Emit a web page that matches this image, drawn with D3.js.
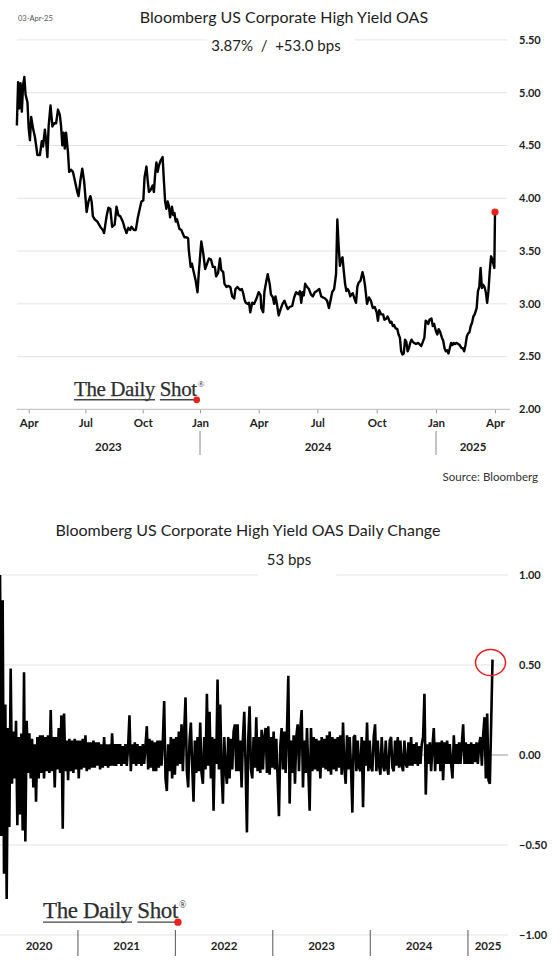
<!DOCTYPE html>
<html><head><meta charset="utf-8">
<script src="https://cdn.jsdelivr.net/npm/d3@7"></script>
<style>
html,body{margin:0;padding:0;background:#fff;}
svg{display:block;font-family:Lato,"Open Sans",sans-serif;}
.pre{white-space:pre;}
</style></head><body>
<svg id="chart" width="560" height="965"></svg>
<script>
// ---------- DATA: top chart (Bloomberg US Corporate High Yield OAS, %) ----------
const oasDates = [
"2023-03-13","2023-03-15","2023-03-17","2023-03-19","2023-03-21","2023-03-23","2023-03-25","2023-03-27","2023-03-30","2023-04-01",
"2023-04-03","2023-04-05","2023-04-08","2023-04-11","2023-04-15","2023-04-19","2023-04-22","2023-04-24","2023-04-27","2023-04-29",
"2023-05-01","2023-05-03","2023-05-06","2023-05-09","2023-05-12","2023-05-15","2023-05-18","2023-05-21","2023-05-23","2023-05-25",
"2023-05-27","2023-05-29","2023-05-31","2023-06-03","2023-06-05","2023-06-08","2023-06-11","2023-06-14","2023-06-18","2023-06-20",
"2023-06-23","2023-06-26","2023-06-29","2023-07-03","2023-07-06","2023-07-09","2023-07-11","2023-07-13","2023-07-16","2023-07-20",
"2023-07-23","2023-07-26","2023-07-29","2023-07-31","2023-08-04","2023-08-07","2023-08-10","2023-08-13","2023-08-17","2023-08-20",
"2023-08-23","2023-08-26","2023-08-30","2023-09-02","2023-09-05","2023-09-08","2023-09-11","2023-09-13","2023-09-17","2023-09-20",
"2023-09-23","2023-09-27","2023-09-29","2023-10-02","2023-10-04","2023-10-07","2023-10-09","2023-10-11","2023-10-14","2023-10-17",
"2023-10-19","2023-10-21","2023-10-23","2023-10-25","2023-10-27","2023-10-30","2023-11-02","2023-11-04","2023-11-06","2023-11-08",
"2023-11-10","2023-11-12","2023-11-14","2023-11-17","2023-11-19","2023-11-21","2023-11-23","2023-11-25","2023-11-29","2023-12-02",
"2023-12-04","2023-12-07","2023-12-10","2023-12-13","2023-12-14","2023-12-17","2023-12-19","2023-12-22","2023-12-25","2023-12-28",
"2023-12-30","2024-01-03","2024-01-06","2024-01-09","2024-01-12","2024-01-15","2024-01-18","2024-01-21","2024-01-24","2024-01-26",
"2024-01-29","2024-02-01","2024-02-03","2024-02-06","2024-02-08","2024-02-11","2024-02-14","2024-02-17","2024-02-20","2024-02-23",
"2024-02-25","2024-02-28","2024-03-03","2024-03-06","2024-03-08","2024-03-10","2024-03-12","2024-03-15","2024-03-17","2024-03-19",
"2024-03-22","2024-03-25","2024-03-28","2024-04-01","2024-04-04","2024-04-05","2024-04-08","2024-04-10","2024-04-13","2024-04-15",
"2024-04-18","2024-04-20","2024-04-23","2024-04-25","2024-04-27","2024-04-29","2024-05-02","2024-05-05","2024-05-08","2024-05-11",
"2024-05-14","2024-05-16","2024-05-19","2024-05-23","2024-05-26","2024-05-29","2024-06-02","2024-06-04","2024-06-06","2024-06-08",
"2024-06-10","2024-06-12","2024-06-15","2024-06-18","2024-06-21","2024-06-24","2024-06-27","2024-06-30","2024-07-04","2024-07-07",
"2024-07-10","2024-07-13","2024-07-16","2024-07-19","2024-07-21","2024-07-24","2024-07-27","2024-07-30","2024-08-01","2024-08-03",
"2024-08-05","2024-08-07","2024-08-09","2024-08-11","2024-08-13","2024-08-15","2024-08-17","2024-08-19","2024-08-21","2024-08-23",
"2024-08-25","2024-08-27","2024-08-30","2024-09-01","2024-09-03","2024-09-06","2024-09-09","2024-09-11","2024-09-13","2024-09-16",
"2024-09-19","2024-09-22","2024-09-25","2024-09-28","2024-10-01","2024-10-03","2024-10-05","2024-10-08","2024-10-11","2024-10-13",
"2024-10-16","2024-10-18","2024-10-20","2024-10-22","2024-10-24","2024-10-26","2024-10-28","2024-10-30","2024-11-02","2024-11-04",
"2024-11-06","2024-11-08","2024-11-10","2024-11-12","2024-11-14","2024-11-16","2024-11-18","2024-11-20","2024-11-22","2024-11-24",
"2024-11-26","2024-11-28","2024-12-01","2024-12-04","2024-12-06","2024-12-09","2024-12-11","2024-12-14","2024-12-16","2024-12-18",
"2024-12-20","2024-12-22","2024-12-25","2024-12-27","2024-12-29","2025-01-01","2025-01-03","2025-01-05","2025-01-07","2025-01-10",
"2025-01-12","2025-01-14","2025-01-16","2025-01-18","2025-01-20","2025-01-22","2025-01-24","2025-01-26","2025-01-28","2025-01-30",
"2025-02-01","2025-02-04","2025-02-06","2025-02-09","2025-02-11","2025-02-13","2025-02-15","2025-02-17","2025-02-19","2025-02-21",
"2025-02-23","2025-02-25","2025-02-27","2025-03-01","2025-03-04","2025-03-06","2025-03-08","2025-03-10","2025-03-12","2025-03-14",
"2025-03-16","2025-03-18","2025-03-20","2025-03-22","2025-03-24","2025-03-26","2025-03-28","2025-03-31","2025-04-01"
];
const oasValues = [
4.69,5.10,4.85,5.09,4.82,5.07,5.15,4.98,4.91,4.66,
4.55,4.77,4.66,4.58,4.41,4.41,4.54,4.49,4.65,4.54,
4.39,4.68,4.88,4.68,4.71,4.71,4.84,4.79,4.68,4.50,
4.62,4.47,4.62,4.44,4.25,4.27,4.25,4.17,4.06,4.02,
4.17,4.28,4.16,3.87,3.97,4.02,3.97,3.83,3.80,3.78,
3.75,3.72,3.70,3.67,3.83,3.91,3.90,3.73,3.75,3.92,
3.84,3.83,3.78,3.72,3.67,3.72,3.70,3.73,3.70,3.70,
3.81,3.92,3.97,3.98,4.20,4.30,4.17,4.06,4.08,4.12,
4.06,4.23,4.34,4.25,4.31,4.36,4.39,4.17,3.97,3.90,
3.97,3.93,3.82,3.92,3.84,3.86,3.78,3.80,3.71,3.70,
3.67,3.63,3.63,3.62,3.51,3.35,3.38,3.30,3.22,3.11,
3.29,3.59,3.48,3.33,3.38,3.43,3.42,3.35,3.35,3.26,
3.29,3.43,3.32,3.30,3.19,3.16,3.17,3.16,3.07,3.05,
3.14,3.16,3.13,3.14,3.10,3.04,3.01,3.00,3.01,2.92,
3.01,3.00,3.04,3.11,3.08,2.96,2.92,3.12,3.22,3.28,
3.19,3.09,3.06,3.00,3.07,3.01,2.89,2.95,3.00,3.03,
2.98,2.95,2.97,2.98,3.06,3.11,3.09,3.12,3.01,3.11,
3.08,3.19,3.16,3.14,3.09,3.07,3.11,3.12,3.14,3.07,
3.06,3.05,3.03,2.96,3.02,3.11,3.14,3.28,3.80,3.55,
3.36,3.42,3.44,3.31,3.19,3.12,3.14,3.12,3.07,3.09,
3.10,3.06,3.01,3.16,3.20,3.22,3.30,3.25,3.17,3.00,
3.06,3.03,2.96,2.97,2.92,2.84,2.94,2.90,2.90,2.85,
2.86,2.88,2.85,2.82,2.83,2.79,2.80,2.77,2.76,2.71,
2.68,2.55,2.52,2.53,2.66,2.64,2.55,2.58,2.63,2.66,
2.64,2.63,2.62,2.63,2.62,2.60,2.63,2.68,2.84,2.83,
2.81,2.85,2.86,2.79,2.81,2.74,2.71,2.76,2.74,2.68,
2.65,2.58,2.55,2.56,2.53,2.58,2.63,2.61,2.63,2.62,
2.63,2.62,2.61,2.58,2.58,2.55,2.61,2.69,2.72,2.73,
2.79,2.82,2.88,2.90,2.96,3.12,3.16,3.34,3.15,3.18,
3.16,3.11,3.01,3.12,3.31,3.45,3.42,3.34,3.87
];
const oasYTicks = [5.5,5.0,4.5,4.0,3.5,3.0,2.5,2.0];
const oasMonthTicks = ["2023-04-01","2023-07-01","2023-10-01","2024-01-01","2024-04-01","2024-07-01","2024-10-01","2025-01-01","2025-04-01"];
const oasYearBreaks = ["2024-01-01","2025-01-01"];
const oasYears = ["2023","2024","2025"];
const oasAxisSpan = ["2023-03-13","2025-04-24"];
const topTitle = "Bloomberg US Corporate High Yield OAS";
const topSubtitle = "3.87%  /  +53.0 bps";
const dateStamp = "03-Apr-25";
const sourceText = "Source: Bloomberg";

// ---------- DATA: bottom chart (daily change, %-points), sampled every 5 days ----------
const chgStart = "2020-03-15";
const chgStepDays = 5;
const chgValues = [
1.05,-0.45,0.86,-0.66,0.28,-0.80,0.15,-0.40,0.48,-0.16,
0.13,-0.13,0.19,-0.39,0.10,-0.33,0.12,-0.42,0.46,-0.48,
0.19,-0.10,0.12,-0.13,0.09,-0.18,0.06,-0.26,0.10,-0.13,
0.11,-0.10,0.11,-0.13,0.10,-0.09,0.11,-0.10,0.25,-0.09,
0.10,-0.18,0.10,-0.08,0.15,-0.10,0.22,-0.41,0.23,-0.09,
0.08,-0.14,0.09,-0.09,0.08,-0.10,0.09,-0.08,0.08,-0.13,
0.08,-0.08,0.09,-0.07,0.11,-0.09,0.07,-0.08,0.07,-0.07,
0.08,-0.07,0.07,-0.06,0.07,-0.08,0.06,-0.07,0.10,-0.06,
0.06,-0.07,0.06,-0.06,0.12,-0.06,0.06,-0.06,0.06,-0.05,
0.06,-0.06,0.05,-0.05,0.06,-0.06,0.05,0.22,-0.09,0.06,
-0.05,0.07,-0.06,0.06,-0.05,0.05,-0.06,0.06,-0.05,0.05,
0.16,-0.08,0.09,-0.07,0.08,-0.09,0.07,-0.09,0.08,-0.07,
0.08,-0.06,0.08,0.30,-0.13,-0.20,0.06,-0.09,0.10,-0.13,
0.09,-0.11,0.10,-0.06,0.13,-0.05,0.17,-0.09,0.13,0.32,
-0.09,-0.18,0.08,0.18,-0.06,-0.26,0.08,-0.10,0.10,-0.09,
0.18,-0.10,-0.16,0.10,-0.08,0.34,-0.06,0.24,-0.13,0.10,
-0.31,0.09,-0.05,0.42,-0.08,0.28,-0.09,-0.27,0.10,-0.08,
-0.16,0.10,-0.13,0.09,-0.08,0.13,0.17,-0.09,0.17,-0.09,
0.08,-0.18,0.09,0.24,-0.06,-0.43,0.09,0.27,-0.08,-0.13,
0.10,-0.07,0.21,-0.09,0.10,-0.10,0.14,-0.08,0.10,0.15,
-0.10,0.16,-0.11,0.10,-0.07,0.13,-0.08,0.09,-0.13,-0.34,
0.05,0.15,-0.08,0.13,-0.10,0.13,0.44,-0.27,0.08,-0.10,
0.11,-0.16,0.10,0.17,-0.09,0.15,0.25,-0.18,0.08,-0.10,
0.15,-0.08,-0.31,0.15,-0.09,0.10,-0.08,0.09,-0.09,0.08,
-0.13,0.10,-0.07,0.09,-0.08,0.11,-0.09,0.13,-0.11,0.10,
-0.08,0.09,-0.09,0.10,-0.07,0.11,-0.11,0.18,-0.07,-0.16,
0.11,-0.08,0.10,-0.07,-0.32,0.10,0.11,-0.09,0.08,-0.07,
-0.09,0.10,-0.29,0.08,-0.06,0.18,-0.09,0.08,-0.07,-0.09,
0.10,0.17,-0.09,0.08,-0.06,-0.11,0.10,-0.06,-0.09,0.08,
-0.07,-0.11,0.08,0.10,-0.07,-0.09,0.08,-0.06,0.10,-0.07,
0.08,-0.06,-0.09,0.08,-0.05,-0.07,0.07,-0.06,0.10,-0.06,
0.06,-0.05,0.07,-0.06,0.05,-0.05,0.06,0.10,0.34,-0.22,
0.06,-0.05,0.07,-0.09,0.05,0.15,-0.09,0.07,-0.05,0.07,
-0.09,0.08,-0.14,0.07,-0.05,0.08,-0.05,0.06,-0.05,-0.13,
0.11,-0.05,0.06,-0.05,0.07,-0.05,0.06,0.17,-0.05,0.07,
-0.05,0.06,-0.05,0.07,-0.05,0.06,-0.04,0.07,-0.05,0.06,
0.10,-0.06,0.11,0.21,-0.13,0.23,-0.14,-0.16,0.18,0.53
];
const chgYTicks = [1.0,0.5,0.0,-0.5,-1.0];
const chgYearBreaks = ["2021-01-01","2022-01-01","2023-01-01","2024-01-01","2025-01-01"];
const chgYears = ["2020","2021","2022","2023","2024","2025"];
const chgAxisSpan = ["2020-03-15","2025-05-31"];
const botTitle = "Bloomberg US Corporate High Yield OAS Daily Change";
const botSubtitle = "53 bps";

// ---------- DRAWING ----------
const parse = d3.utcParse("%Y-%m-%d");
const svg = d3.select("#chart");
const GRID = "#e3e3e3", AXIS = "#c8c8c8", TXT = "#1e1e1e";

function logo(g, x0, base, size){
  const t = g.append("text").attr("x", x0).attr("y", base)
    .attr("font-family","'Liberation Serif','DejaVu Serif',serif")
    .attr("font-size", size).attr("fill","#2e2e2e").attr("letter-spacing","-0.4")
    .attr("stroke","#2e2e2e").attr("stroke-width",0.25)
    .text("The Daily Shot");
  const node = t.node();
  const wAll = node.getComputedTextLength();
  const wTD = node.getSubStringLength(0, 9);
  const sStart = node.getSubStringLength(0, 10);
  const uy = base + size*0.18;
  g.append("line").attr("x1", x0).attr("x2", x0 + wTD).attr("y1", uy).attr("y2", uy)
    .attr("stroke","#444").attr("stroke-width",1.4);
  g.append("line").attr("x1", x0 + sStart).attr("x2", x0 + wAll).attr("y1", uy).attr("y2", uy)
    .attr("stroke","#444").attr("stroke-width",1.4);
  g.append("circle").attr("cx", x0 + wAll).attr("cy", uy).attr("r", size*0.16).attr("fill","#e8231f");
  g.append("text").attr("x", x0 + wAll + 1).attr("y", base - size*0.45)
    .attr("font-family","'Liberation Serif',serif").attr("font-size", size*0.42).attr("fill","#2e2e2e").text("®");
}

// ===== TOP CHART =====
const x1 = d3.scaleUtc()
  .domain(["2023-04-01","2024-01-01","2025-01-01","2025-04-01"].map(parse))
  .range([28.7, 200, 436, 495]);
const y1 = d3.scaleLinear().domain([2, 5.5]).range([409.4, 39.9]);
const gTop = svg.append("g");
const tx0 = x1(parse(oasAxisSpan[0])), tx1 = x1(parse(oasAxisSpan[1]));

gTop.selectAll("line.grid").data(oasYTicks.filter(v => v > 2)).join("line")
  .attr("x1", tx0).attr("x2", tx1 - 3).attr("y1", d => y1(d)).attr("y2", d => y1(d))
  .attr("stroke", GRID).attr("stroke-width", 1);
gTop.selectAll("text.ylab").data(oasYTicks).join("text")
  .attr("x", 519).attr("y", d => y1(d)).attr("dy","0.35em")
  .attr("font-size", 11).attr("font-weight", 700).attr("fill", TXT)
  .text(d => d3.format(".2f")(d));

const xa1 = gTop.append("g").attr("transform", `translate(0,${y1(2)})`)
  .call(d3.axisBottom(x1).tickValues(oasMonthTicks.map(parse)).tickFormat(d3.utcFormat("%b")).tickSize(4).tickPadding(5));
xa1.select(".domain").remove();
xa1.selectAll(".tick line").attr("stroke", "#999");
xa1.selectAll(".tick text").attr("font-size", 11.5).attr("font-weight", 700).attr("fill", TXT).attr("font-family","Lato,sans-serif");
gTop.append("line").attr("x1", tx0).attr("x2", tx1).attr("y1", y1(2)).attr("y2", y1(2))
  .attr("stroke", AXIS).attr("stroke-width", 1.2);
gTop.selectAll("line.ysep").data(oasYearBreaks).join("line")
  .attr("x1", d => x1(parse(d))).attr("x2", d => x1(parse(d))).attr("y1", 431).attr("y2", 455)
  .attr("stroke", "#888").attr("stroke-width", 1);
const yb1 = [tx0, ...oasYearBreaks.map(d => x1(parse(d))), tx1];
gTop.selectAll("text.year").data(oasYears).join("text")
  .attr("x", (d,i) => (yb1[i] + yb1[i+1]) / 2).attr("y", 451).attr("text-anchor","middle")
  .attr("font-size", 11.5).attr("font-weight", 700).attr("fill", TXT).text(d => d);

const oasData = oasDates.map((d,i) => ({date: parse(d), v: oasValues[i]}));
gTop.append("path").datum(oasData)
  .attr("d", d3.line().x(d => x1(d.date)).y(d => y1(d.v)))
  .attr("fill","none").attr("stroke","#000").attr("stroke-width",2.4).attr("stroke-linejoin","round");
const lastOas = oasData[oasData.length-1];
gTop.append("circle").attr("cx", x1(lastOas.date)).attr("cy", y1(lastOas.v)).attr("r", 3.6).attr("fill","#e8231f");

gTop.append("text").attr("x", 18).attr("y", 21).attr("font-size", 7.5).attr("fill","#555").text(dateStamp);
gTop.append("text").attr("x", 284).attr("y", 22.5).attr("text-anchor","middle").attr("font-size", 16).attr("fill", TXT).text(topTitle);
const st1 = gTop.append("text").attr("class","pre").attr("x", 276).attr("y", 51).attr("text-anchor","middle").attr("font-size", 15).attr("fill", TXT).text(topSubtitle);
const b1 = st1.node().getBBox();
gTop.insert("rect", "text").attr("x", b1.x - 4).attr("y", y1(5.5) - 3).attr("width", b1.width + 18).attr("height", 6).attr("fill","#fff");
logo(gTop.append("g"), 74, 396, 21);
gTop.append("text").attr("x", 538).attr("y", 481).attr("text-anchor","end").attr("font-size", 11.5).attr("fill","#333").text(sourceText);

// ===== BOTTOM CHART =====
const x2 = d3.scaleUtc().domain(chgAxisSpan.map(parse)).range([0, 508]);
const y2 = d3.scaleLinear().domain([-1, 1]).range([935, 575]);
const gBot = svg.append("g");
const bx0 = x2(parse(chgAxisSpan[0])), bx1 = x2(parse(chgAxisSpan[1]));
gBot.selectAll("line.grid").data(chgYTicks.filter(v => v !== 0)).join("line")
  .attr("x1", bx0).attr("x2", bx1).attr("y1", d => y2(d)).attr("y2", d => y2(d))
  .attr("stroke", GRID).attr("stroke-width", 1);
gBot.append("line").attr("x1", bx0).attr("x2", bx1).attr("y1", y2(0)).attr("y2", y2(0)).attr("stroke","#999").attr("stroke-width",1.2);
gBot.selectAll("text.ylab").data(chgYTicks).join("text")
  .attr("x", 519).attr("y", d => y2(d)).attr("dy","0.35em")
  .attr("font-size", 11).attr("font-weight", 700).attr("fill", TXT)
  .text(d => d3.format(".2f")(d));

gBot.selectAll("line.ysep").data(chgYearBreaks).join("line")
  .attr("x1", d => x2(parse(d))).attr("x2", d => x2(parse(d))).attr("y1", 930).attr("y2", 956)
  .attr("stroke", "#555").attr("stroke-width", 1);
const yb2 = [bx0, ...chgYearBreaks.map(d => x2(parse(d))), bx1];
gBot.selectAll("text.year").data(chgYears).join("text")
  .attr("x", (d,i) => (yb2[i] + yb2[i+1]) / 2).attr("y", 950).attr("text-anchor","middle")
  .attr("font-size", 11.5).attr("font-weight", 700).attr("fill", TXT).text(d => d);

svg.append("defs").append("clipPath").attr("id","clipB").append("rect")
  .attr("x", bx0).attr("y", y2(1)).attr("width", bx1 - bx0).attr("height", y2(-1) - y2(1));
const startB = parse(chgStart);
const chgData = chgValues.map((v,i) => ({date: d3.utcDay.offset(startB, i*chgStepDays), v}));
gBot.append("path").datum(chgData).attr("clip-path","url(#clipB)")
  .attr("d", d3.line().x(d => x2(d.date)).y(d => y2(d.v)))
  .attr("fill","none").attr("stroke","#000").attr("stroke-width",2.6).attr("stroke-linejoin","bevel");
const lastChg = chgData[chgData.length-1];
gBot.append("ellipse").attr("cx", x2(lastChg.date) - 2).attr("cy", y2(lastChg.v) + 3).attr("rx", 15).attr("ry", 13)
  .attr("fill","none").attr("stroke","#e8231f").attr("stroke-width",1.5);

gBot.append("text").attr("x", 248).attr("y", 535.5).attr("text-anchor","middle").attr("font-size", 16).attr("fill", TXT).text(botTitle);
const st2 = gBot.append("text").attr("x", 289).attr("y", 565).attr("text-anchor","middle").attr("font-size", 15).attr("fill", TXT).text(botSubtitle);
const b2 = st2.node().getBBox();
gBot.insert("rect", "text").attr("x", b2.x - 9).attr("y", y2(1) - 3).attr("width", b2.width + 34).attr("height", 6).attr("fill","#fff");
logo(gBot.append("g"), 43, 918, 23);
</script>
</body></html>
